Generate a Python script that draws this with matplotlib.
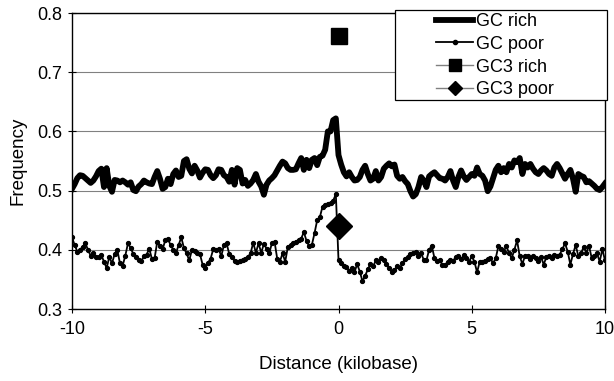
import numpy as np
import matplotlib
matplotlib.use("Agg")
import matplotlib.pyplot as plt
from matplotlib.lines import Line2D
from matplotlib.patches import Rectangle

plt.rcParams['font.family'] = ['Liberation Sans', 'DejaVu Sans']

# Distance (kilobase), one sample every 0.1 kb
distance = np.round(np.linspace(-10, 10, 201), 2)

gc_rich = [
    .503, .511, .521, .526, .525, .521, .517, .513, .517, .524,
    .533, .537, .506, .538, .508, .498, .518, .517, .514, .517,
    .514, .510, .514, .501, .499, .507, .511, .517, .514, .512,
    .511, .523, .533, .520, .503, .506, .520, .511, .528, .534,
    .523, .525, .550, .553, .537, .529, .542, .534, .522, .530,
    .536,
    .535, .526, .521, .526, .536, .535, .526, .523, .515,
    .535, .510, .538, .535, .512, .518, .508, .512, .518, .528,
    .515, .507, .493, .510, .517, .521, .526, .534, .542, .549,
    .546, .538, .535, .535, .536, .546, .555, .535, .552, .538,
    .552, .555, .543, .557, .559, .569, .600, .600, .619, .622,
    .560,
    .544, .531, .524, .531, .523, .517, .518, .523, .535, .542,
    .528, .517, .520, .533, .517, .523, .537, .542, .546, .541,
    .544, .525, .520, .523, .516, .511, .499, .490, .494, .506,
    .523, .517, .506, .524, .528, .531, .526, .521, .520, .517,
    .523, .533, .517, .506, .523, .534, .524, .518, .523, .528,
    .525, .539, .528, .525, .517, .499, .507, .521, .535, .542,
    .531, .538, .531, .545, .539, .551, .548, .555, .528, .545,
    .539, .545, .537, .531, .528, .534, .538, .534, .528, .525,
    .539, .545, .538, .529, .520, .528, .535, .520, .498, .528,
    .525, .523, .514, .516, .512, .508, .503, .501, .506, .512,
]

gc_poor = [
    .421, .408, .397, .400, .405, .411, .400, .390, .394, .388,
    .387, .391, .380, .369, .388, .377, .393, .400, .377, .373,
    .390, .411, .403, .393, .388, .383, .381, .389, .392, .402,
    .384, .386, .414, .407, .401, .416, .418, .408, .400, .394,
    .408, .421, .403, .394, .382, .400, .398, .394, .393, .375,
    .370,
    .378, .385, .401, .399, .402, .389, .408, .411, .393,
    .388, .381, .380, .381, .383, .385, .388, .394, .412, .395,
    .411, .395, .410, .402, .394, .411, .414, .385, .380, .394,
    .380, .405, .408, .412, .414, .416, .419, .430, .415, .406,
    .408, .428, .450, .455, .473, .475, .477, .479, .483, .494,
    .383,
    .377, .372, .371, .365, .369, .362, .376, .363, .347, .356,
    .367, .376, .372, .382, .379, .386, .383, .376, .370, .362,
    .366, .372, .369, .377, .385, .387, .393, .395, .397, .390,
    .394, .383, .382, .400, .407, .386, .381, .382, .375, .375,
    .379, .383, .381, .388, .390, .384, .391, .386, .380, .389,
    .380, .362, .380, .379, .381, .384, .386, .377, .386, .406,
    .401, .397, .406, .394, .386, .400, .416, .389, .376, .390,
    .390, .384, .390, .386, .381, .388, .375, .388, .389, .386,
    .392, .390, .392, .401, .411, .397, .375, .393, .408, .389,
    .394, .405, .395, .407, .386, .389, .394, .380, .401, .382,
]

gc3_rich_x = [0]
gc3_rich_y = [0.761]
gc3_poor_x = [0]
gc3_poor_y = [0.441]

labels = ["GC rich", "GC poor", "GC3 rich", "GC3 poor"]
x_ticks = [-10, -5, 0, 5, 10]
y_ticks = [0.3, 0.4, 0.5, 0.6, 0.7, 0.8]

W, H = 614, 381
fig = plt.figure(figsize=(W / 100, H / 100), dpi=100)
ax = fig.add_axes([72 / W, 1 - 309 / H, (605 - 72) / W, (309 - 13) / H])

ax.plot(distance, gc_rich, color='black', lw=4.2, solid_joinstyle='round', zorder=3)
ax.plot(distance, gc_poor, color='black', lw=1.3, marker='o', ms=2.8, zorder=3)
ax.plot(gc3_rich_x, gc3_rich_y, linestyle='none', marker='s', ms=11.5, color='black', zorder=4)
ax.plot(gc3_poor_x, gc3_poor_y, linestyle='none', marker='D', ms=13.5, color='black', zorder=4)

ax.set_xlim(-10, 10)
ax.set_ylim(0.3, 0.8)
ax.set_xticks(x_ticks)
ax.set_xticklabels([str(t) for t in x_ticks])
ax.set_yticks(y_ticks)
ax.set_yticklabels([f"{t:.1f}" for t in y_ticks])
ax.tick_params(axis='both', direction='inout', length=5.5, width=0.8, labelsize=13, colors='black')
ax.tick_params(axis='y', pad=4)
ax.tick_params(axis='x', pad=6)
ax.yaxis.grid(True, color='#808080', lw=0.8)
ax.set_axisbelow(True)
for s in ax.spines.values():
    s.set_color('black')
    s.set_linewidth(1.0)

ax.set_xlabel("Distance (kilobase)", fontsize=13.5, labelpad=13)
ax.set_ylabel("Frequency", fontsize=13.5, labelpad=8)

# legend frame
frame = Rectangle((395 / W, 1 - 100 / H), 212 / W, 90 / H, transform=fig.transFigure,
                  facecolor='white', edgecolor='black', lw=0.9, zorder=2)
fig.add_artist(frame)

handles = [
    Line2D([], [], color='black', lw=4.2),
    Line2D([], [], color='black', lw=1.3, marker='o', ms=3),
    Line2D([], [], color='#808080', lw=1.0, marker='s', ms=8, mfc='black', mec='black'),
    Line2D([], [], color='#808080', lw=1.0, marker='D', ms=7, mfc='black', mec='black'),
]
leg = fig.legend(handles, labels, loc='upper left', bbox_to_anchor=(436 / W, 1 - 13 / H),
                 frameon=False, fontsize=13, handlelength=2.05, handletextpad=0.15,
                 labelspacing=0.32, borderpad=0, borderaxespad=0)
leg.set_zorder(5)

fig.savefig("out.png", dpi=100)
